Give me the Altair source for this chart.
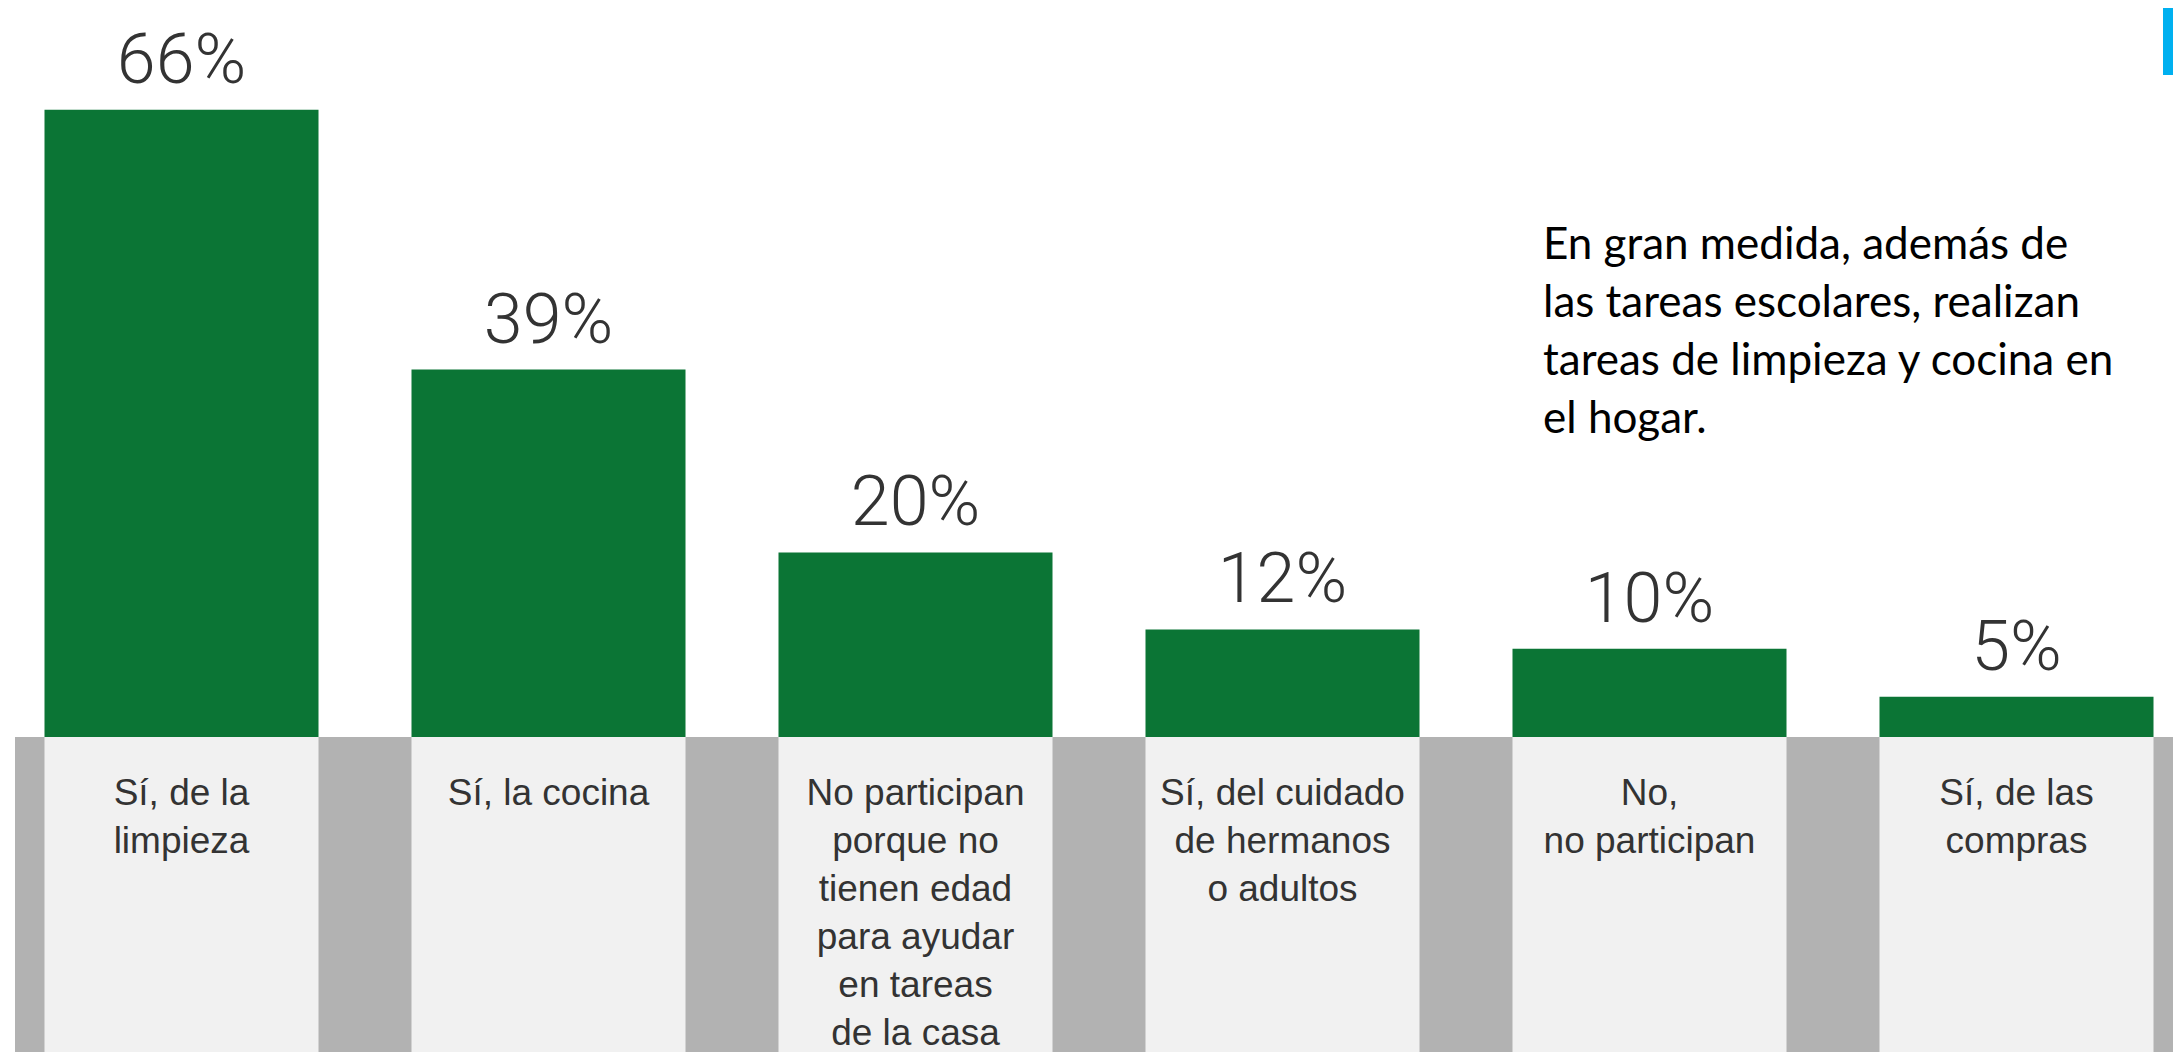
import altair as alt
import pandas as pd

# ---- data ----
categories = [
    "Sí, de la\nlimpieza",
    "Sí, la cocina",
    "No participan\nporque no\ntienen edad\npara ayudar\nen tareas\nde la casa",
    "Sí, del cuidado\nde hermanos\no adultos",
    "No,\nno participan",
    "Sí, de las\ncompras",
]
values = [66, 39, 20, 12, 10, 5]
value_labels = ["66%", "39%", "20%", "12%", "10%", "5%"]
note_lines = [
    "En gran medida, además de",
    "las tareas escolares, realizan",
    "tareas de limpieza y cocina en",
    "el hogar.",
]

df = pd.DataFrame({"cat": categories, "value": values, "label": value_labels})
one = pd.DataFrame({"note": ["\n".join(note_lines)]})

W, H = 2165, 1044
BASE = 729  # top of the grey label band

x_scale = alt.Scale(domain=categories, range=[36.5, 2145.5], paddingInner=0.2534, paddingOuter=0)
y_scale = alt.Scale(domain=[0, 66], range=[737, 101.7])

X = alt.X("cat:N", scale=x_scale, axis=None, sort=categories)

bars = alt.Chart(df).mark_bar(color="#0b7535").encode(
    x=X, y=alt.Y("value:Q", scale=y_scale, axis=None),
)

gray_band = alt.Chart(one).mark_rect(color="#b2b2b2").encode(
    x=alt.value(7), x2=alt.value(W), y=alt.value(BASE), y2=alt.value(H),
)

panels = alt.Chart(df).mark_bar(color="#f1f1f1").encode(
    x=X, y=alt.value(BASE), y2=alt.value(H),
)

pct = alt.Chart(df).mark_text(
    font="Roboto", fontWeight=300, fontSize=70, color="#333333",
    baseline="alphabetic", dy=-27,
).encode(x=X, y=alt.Y("value:Q", scale=y_scale, axis=None), text="label:N")

cat_labels = alt.Chart(df).mark_text(
    font="Liberation Sans", fontSize=37, lineHeight=48, color="#333333",
    baseline="top", dy=39, lineBreak="\n",
).encode(x=X, y=alt.value(BASE - 39 + 39), text="cat:N")

note = alt.Chart(one).mark_text(
    font="Lato", fontSize=44, lineHeight=58, color="#000000",
    align="left", baseline="alphabetic", lineBreak="\n",
).encode(x=alt.value(1535), y=alt.value(251), text="note:N")

blue = alt.Chart(one).mark_rect(color="#00b0f0").encode(
    x=alt.value(2155), x2=alt.value(W), y=alt.value(0), y2=alt.value(67),
)

chart = alt.layer(bars, gray_band, panels, pct, cat_labels, note, blue).properties(
    width=W, height=H, padding=0, background="#ffffff"
).configure_view(stroke=None)

chart.save("out.html", embed_options={"renderer": "svg", "actions": False})
